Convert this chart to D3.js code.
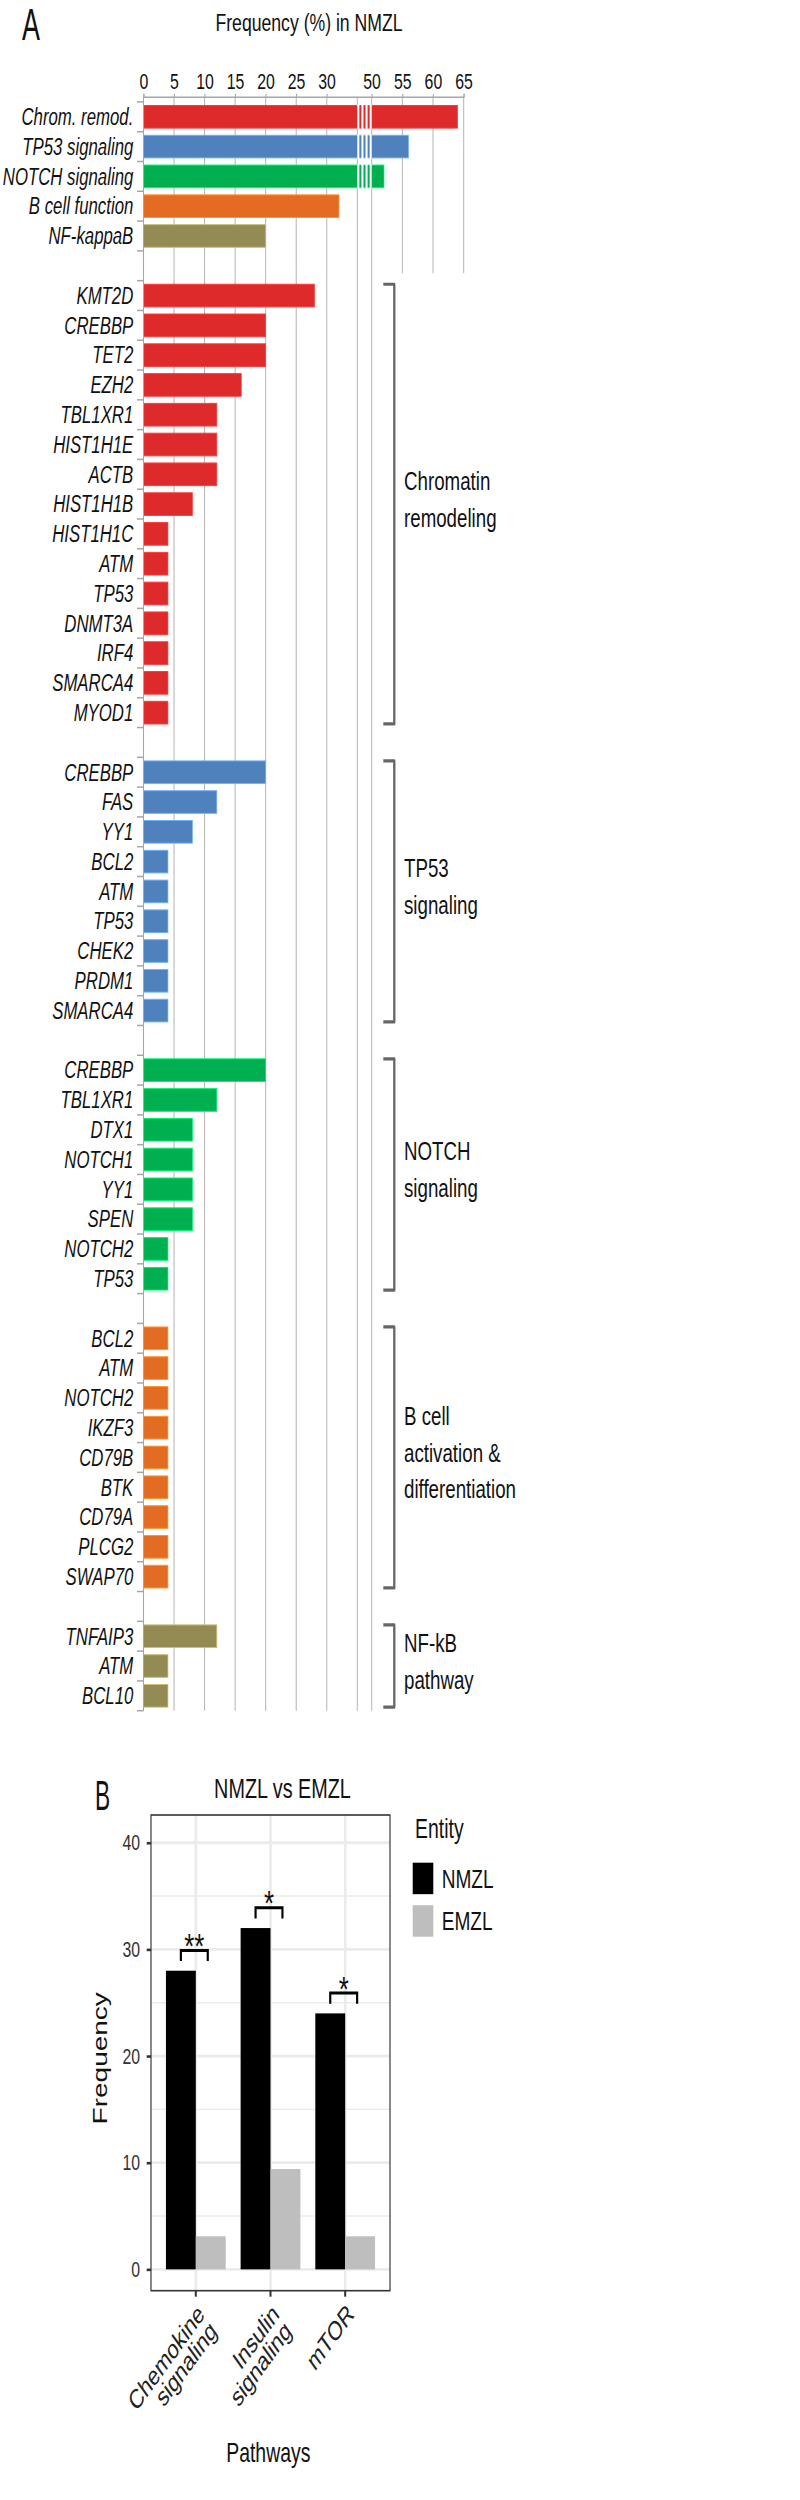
<!DOCTYPE html>
<html>
<head>
<meta charset="utf-8">
<script src="https://cdn.jsdelivr.net/npm/d3@7"></script>
<style>
  body { margin: 0; background: #fff; }
  text { font-family: "Liberation Sans", Arial, sans-serif; }
</style>
</head>
<body>
<script>
// ---- data, panel A: pathway and gene mutation frequencies (%) in NMZL ----
let pathwayNames = ["Chrom. remod.", "TP53 signaling", "NOTCH signaling", "B cell function", "NF-kappaB"];
let pathwayFreq = [64, 56, 52, 32, 20];

let chromGenes = ["KMT2D", "CREBBP", "TET2", "EZH2", "TBL1XR1", "HIST1H1E", "ACTB", "HIST1H1B",
	"HIST1H1C", "ATM", "TP53", "DNMT3A", "IRF4", "SMARCA4", "MYOD1"];
let chromFreq = [28, 20, 20, 16, 12, 12, 12, 8, 4, 4, 4, 4, 4, 4, 4];

let tp53Genes = ["CREBBP", "FAS", "YY1", "BCL2", "ATM", "TP53", "CHEK2", "PRDM1", "SMARCA4"];
let tp53Freq = [20, 12, 8, 4, 4, 4, 4, 4, 4];

let notchGenes = ["CREBBP", "TBL1XR1", "DTX1", "NOTCH1", "YY1", "SPEN", "NOTCH2", "TP53"];
let notchFreq = [20, 12, 8, 8, 8, 8, 4, 4];

let bcellGenes = ["BCL2", "ATM", "NOTCH2", "IKZF3", "CD79B", "BTK", "CD79A", "PLCG2", "SWAP70"];
let bcellFreq = [4, 4, 4, 4, 4, 4, 4, 4, 4];

let nfkbGenes = ["TNFAIP3", "ATM", "BCL10"];
let nfkbFreq = [12, 4, 4];

let groupLabels = [["Chromatin", "remodeling"], ["TP53", "signaling"], ["NOTCH", "signaling"],
	["B cell", "activation &", "differentiation"], ["NF-kB", "pathway"]];
let groupColors = ["#df2a2b", "#4f81bd", "#00b050", "#e46c22", "#948a54"];

let freqTicks = [0, 5, 10, 15, 20, 25, 30, 50, 55, 60, 65];
let axisBreak = [35, 50];

// ---- data, panel B: NMZL vs EMZL ----
let pathwaysB = ["Chemokine\nsignaling", "Insulin\nsignaling", "mTOR"];
let entities = ["NMZL", "EMZL"];
let nmzlFreq = [28, 32, 24];
let emzlFreq = [3.1, 9.4, 3.1];
let sigLabels = ["**", "*", "*"];
let yTicksB = [0, 10, 20, 30, 40];
let entityColors = ["#000000", "#bebebe"];

// the figure is squeezed horizontally; draw in a wider space and scale x
const K = 0.72;
const px = v => v / K;

let svg = d3.select("body").append("svg")
	.attr("width", 800)
	.attr("height", 2500);

let root = svg.append("g").attr("transform", `scale(${K},1)`);

// ================= PANEL A =================
let groups = [
	{genes: chromGenes, freq: chromFreq},
	{genes: tp53Genes, freq: tp53Freq},
	{genes: notchGenes, freq: notchFreq},
	{genes: bcellGenes, freq: bcellFreq},
	{genes: nfkbGenes, freq: nfkbFreq}
];

let rows = [];
pathwayNames.forEach((n, i) => rows.push({id: "p" + i, label: n, value: pathwayFreq[i], color: groupColors[i]}));
groups.forEach((g, gi) => {
	rows.push({id: "gap" + gi});
	g.genes.forEach((gene, j) => rows.push({id: `g${gi}-${j}`, label: gene, value: g.freq[j], color: groupColors[gi]}));
});

let yA = d3.scaleBand()
	.domain(rows.map(r => r.id))
	.range([101.9, 1710.7])
	.paddingInner(0.24)
	.paddingOuter(0.12);

let xA = d3.scaleLinear()
	.domain([0, axisBreak[0], axisBreak[1], 65])
	.range([143.5, 357.3, 371.7, 463.7].map(px));

let axisY = 96.7;
let shortEnd = yA("gap0") - yA.step() * 0.12 + yA.step() * 0.75;

// gridlines
let gridVals = freqTicks.concat([axisBreak[0]]).filter(v => v > 0);
root.append("g").selectAll("line")
	.data(gridVals)
	.enter().append("line")
	.attr("x1", d => xA(d)).attr("x2", d => xA(d))
	.attr("y1", axisY)
	.attr("y2", d => d > axisBreak[1] ? shortEnd : 1710.7)
	.attr("stroke", "#b4b4b4")
	.attr("stroke-width", 1.4);

// bars
let barRows = rows.filter(r => r.label);
root.append("g").selectAll("rect")
	.data(barRows)
	.enter().append("rect")
	.attr("x", xA(0))
	.attr("y", d => yA(d.id))
	.attr("width", d => xA(d.value) - xA(0))
	.attr("height", yA.bandwidth())
	.attr("fill", d => d.color)
	.attr("stroke", d => d3.color(d.color).brighter(0.9))
	.attr("stroke-width", 1);

// axis break stripes
let seg = (xA(axisBreak[1]) - xA(axisBreak[0])) / 7;
let stripes = [];
barRows.filter(r => r.value > axisBreak[0]).forEach(r => {
	[0, 2, 4, 6].forEach(k => stripes.push({row: r, k: k}));
});
root.append("g").selectAll("rect")
	.data(stripes)
	.enter().append("rect")
	.attr("x", d => xA(axisBreak[0]) + d.k * seg)
	.attr("y", d => yA(d.row.id) - 1)
	.attr("width", seg)
	.attr("height", yA.bandwidth() + 2)
	.attr("fill", "#fff");

// gene / pathway labels
root.append("g").selectAll("text")
	.data(barRows)
	.enter().append("text")
	.attr("x", px(133.3))
	.attr("y", d => yA(d.id) + yA.bandwidth() / 2 + 8.3)
	.attr("text-anchor", "end")
	.attr("font-style", "italic")
	.attr("font-size", 23.3)
	.attr("fill", "#111")
	.text(d => d.label);

// top axis
let topAxis = root.append("g")
	.attr("transform", `translate(0,${axisY})`)
	.call(d3.axisTop(xA).tickValues(freqTicks).tickSizeOuter(0).tickSize(3).tickPadding(4.4));
topAxis.selectAll("path, line").attr("stroke", "#a6a6a6").attr("stroke-width", 1.5);
topAxis.selectAll("text")
	.attr("font-size", 22)
	.attr("fill", "#111")
	.attr("font-family", "Liberation Sans, Arial, sans-serif");

// left axis line + ticks at band boundaries
root.append("line")
	.attr("x1", xA(0)).attr("x2", xA(0))
	.attr("y1", axisY).attr("y2", 1710.7)
	.attr("stroke", "#a6a6a6").attr("stroke-width", 1.5);
root.append("g").selectAll("line")
	.data(d3.range(rows.length + 1))
	.enter().append("line")
	.attr("x1", px(137)).attr("x2", xA(0))
	.attr("y1", i => 101.9 + i * yA.step())
	.attr("y2", i => 101.9 + i * yA.step())
	.attr("stroke", "#a6a6a6").attr("stroke-width", 1.5);

// group brackets + labels
groups.forEach((g, gi) => {
	let top = yA(`g${gi}-0`);
	let bottom = yA(`g${gi}-${g.genes.length - 1}`) + yA.bandwidth();
	root.append("path")
		.attr("d", `M${px(383.3)},${top}H${px(394.3)}V${bottom}H${px(383.3)}`)
		.attr("fill", "none")
		.attr("stroke", "#666")
		.attr("stroke-width", 3.2)
		.attr("stroke-linejoin", "round");
	let mid = (top + bottom) / 2 - 5;
	let lines = groupLabels[gi];
	root.append("g").selectAll("text")
		.data(lines)
		.enter().append("text")
		.attr("x", px(404))
		.attr("y", (d, i) => mid + (i - (lines.length - 1) / 2) * 36.5 + 9.3)
		.attr("font-size", 26)
		.attr("fill", "#111")
		.text(d => d);
});

// title + panel letter
root.append("text")
	.attr("x", px(309)).attr("y", 30.7)
	.attr("text-anchor", "middle")
	.attr("font-size", 24.5)
	.attr("fill", "#111")
	.text("Frequency (%) in NMZL");

root.append("text")
	.attr("transform", `translate(${px(22)},40) scale(0.85,1)`)
	.attr("font-size", 44)
	.attr("fill", "#111")
	.text("A");

// ================= PANEL B =================
let panel = {left: 151, right: 390, top: 1815, bottom: 2290.7};

let xB = d3.scaleBand()
	.domain(pathwaysB)
	.range([panel.left, panel.right].map(px))
	.paddingInner(0.2)
	.paddingOuter(0.2);

let xSub = d3.scaleBand()
	.domain(entities)
	.range([0, xB.bandwidth()]);

let yB = d3.scaleLinear()
	.domain([-2, 42.6])
	.range([panel.bottom, panel.top]);

let colorB = d3.scaleOrdinal().domain(entities).range(entityColors);

let pB = root.append("g");

// gridlines
let minorB = d3.pairs(yTicksB).map(([a, b]) => (a + b) / 2);
pB.append("g").selectAll("line")
	.data(minorB)
	.enter().append("line")
	.attr("x1", px(panel.left)).attr("x2", px(panel.right))
	.attr("y1", d => yB(d)).attr("y2", d => yB(d))
	.attr("stroke", "#ebebeb").attr("stroke-width", 1.4);
pB.append("g").selectAll("line")
	.data(yTicksB)
	.enter().append("line")
	.attr("x1", px(panel.left)).attr("x2", px(panel.right))
	.attr("y1", d => yB(d)).attr("y2", d => yB(d))
	.attr("stroke", "#ebebeb").attr("stroke-width", 2.8);
pB.append("g").selectAll("line")
	.data(pathwaysB)
	.enter().append("line")
	.attr("x1", d => xB(d) + xB.bandwidth() / 2).attr("x2", d => xB(d) + xB.bandwidth() / 2)
	.attr("y1", panel.top).attr("y2", panel.bottom)
	.attr("stroke", "#ebebeb").attr("stroke-width", 3.6);

// bars
let barData = [];
pathwaysB.forEach((p, i) => {
	barData.push({path: p, entity: "NMZL", value: nmzlFreq[i]});
	barData.push({path: p, entity: "EMZL", value: emzlFreq[i]});
});
pB.append("g").selectAll("rect")
	.data(barData)
	.enter().append("rect")
	.attr("x", d => xB(d.path) + xSub(d.entity))
	.attr("y", d => yB(d.value))
	.attr("width", xSub.bandwidth())
	.attr("height", d => yB(0) - yB(d.value))
	.attr("fill", d => colorB(d.entity));

// significance brackets
pathwaysB.forEach((p, i) => {
	let cx = xB(p) + xB.bandwidth() / 2;
	let x1 = cx - 0.2 * xB.step();
	let x2 = cx + 0.16 * xB.step();
	let yb = yB(nmzlFreq[i] + 1.9);
	let yt = yB(nmzlFreq[i] + 0.9);
	pB.append("path")
		.attr("d", `M${x1},${yt}V${yb}H${x2}V${yt}`)
		.attr("fill", "none")
		.attr("stroke", "#000")
		.attr("stroke-width", 3);
	pB.append("text")
		.attr("x", (x1 + x2) / 2)
		.attr("y", yb + 7.7)
		.attr("text-anchor", "middle")
		.attr("font-size", 36)
		.attr("fill", "#111")
		.text(sigLabels[i]);
});

// panel border
pB.append("rect")
	.attr("x", px(panel.left)).attr("y", panel.top)
	.attr("width", px(panel.right) - px(panel.left))
	.attr("height", panel.bottom - panel.top)
	.attr("fill", "none")
	.attr("stroke", "#333")
	.attr("stroke-width", 1.6);

// y axis
let yAxisB = pB.append("g")
	.attr("transform", `translate(${px(panel.left)},0)`)
	.call(d3.axisLeft(yB).tickValues(yTicksB).tickSize(6).tickPadding(9.3));
yAxisB.select(".domain").remove();
yAxisB.selectAll("line").attr("stroke", "#333").attr("stroke-width", 2.6);
yAxisB.selectAll("text")
	.attr("font-size", 22)
	.attr("fill", "#333")
	.attr("font-family", "Liberation Sans, Arial, sans-serif");

// x axis
let xAxisB = pB.append("g")
	.attr("transform", `translate(0,${panel.bottom})`)
	.call(d3.axisBottom(xB).tickSize(6).tickFormat(""));
xAxisB.select(".domain").remove();
xAxisB.selectAll("line").attr("stroke", "#333").attr("stroke-width", 2.8);

pathwaysB.forEach(p => {
	let lines = p.split("\n");
	pB.append("g")
		.attr("transform", `translate(${xB(p) + xB.bandwidth() / 2},2302) rotate(-45)`)
		.selectAll("text")
		.data(lines)
		.enter().append("text")
		.attr("x", 0)
		.attr("y", (d, i) => 19.5 + i * 24)
		.attr("text-anchor", "end")
		.attr("font-size", 27)
		.attr("fill", "#222")
		.text(d => d);
});

// axis titles
pB.append("text")
	.attr("transform", `translate(${px(106.7)},2058.3) rotate(-90)`)
	.attr("text-anchor", "middle")
	.attr("font-size", 28)
	.attr("fill", "#111")
	.text("Frequency");

pB.append("text")
	.attr("x", px(268.3)).attr("y", 2462)
	.attr("text-anchor", "middle")
	.attr("font-size", 27)
	.attr("fill", "#111")
	.text("Pathways");

pB.append("text")
	.attr("x", px(282.5)).attr("y", 1798)
	.attr("text-anchor", "middle")
	.attr("font-size", 27.5)
	.attr("fill", "#111")
	.text("NMZL vs EMZL");

pB.append("text")
	.attr("transform", `translate(${px(95)},1810) scale(0.75,1)`)
	.attr("font-size", 42)
	.attr("fill", "#111")
	.text("B");

// legend
let legY = d3.scaleBand()
	.domain(entities)
	.range([1862.7, 1936.7])
	.paddingInner(0.26);

pB.append("text")
	.attr("x", px(415)).attr("y", 1838)
	.attr("font-size", 27)
	.attr("fill", "#111")
	.text("Entity");

pB.append("g").selectAll("rect")
	.data(entities)
	.enter().append("rect")
	.attr("x", px(412.7))
	.attr("y", d => legY(d))
	.attr("width", px(433.3) - px(412.7))
	.attr("height", legY.bandwidth())
	.attr("fill", d => colorB(d));

pB.append("g").selectAll("text")
	.data(entities)
	.enter().append("text")
	.attr("x", px(441.7))
	.attr("y", d => legY(d) + legY.bandwidth() / 2 + 9.5)
	.attr("font-size", 26.5)
	.attr("fill", "#111")
	.text(d => d);
</script>
</body>
</html>
